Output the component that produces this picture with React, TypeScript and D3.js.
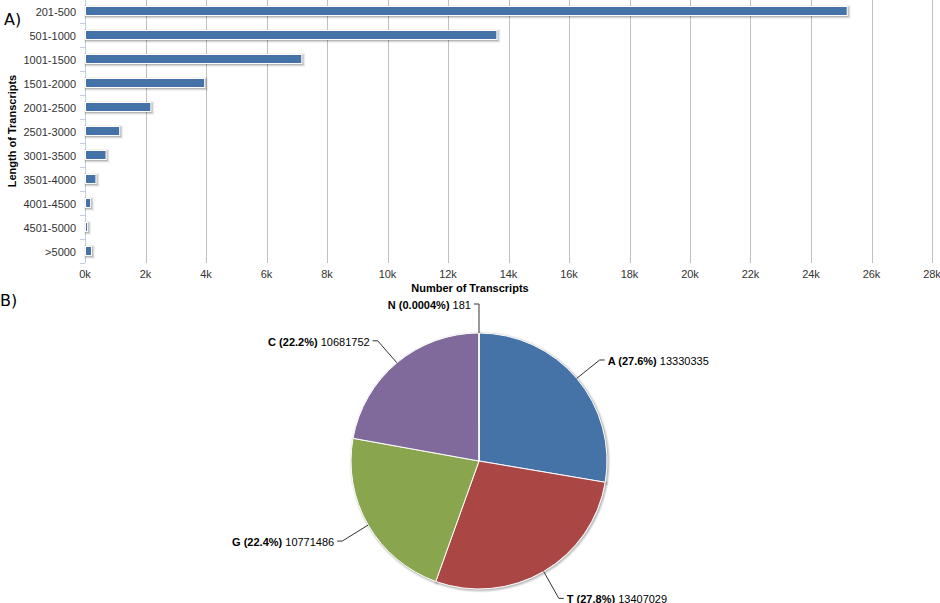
import React from 'react';
import * as d3 from 'd3';

const categories = ['201-500', '501-1000', '1001-1500', '1501-2000', '2001-2500', '2501-3000', '3001-3500', '3501-4000', '4001-4500', '4501-5000', '>5000'];
const transcriptCounts = [25180, 13600, 7150, 3940, 2160, 1130, 680, 345, 170, 70, 200];
const xTicks = [0, 2000, 4000, 6000, 8000, 10000, 12000, 14000, 16000, 18000, 20000, 22000, 24000, 26000, 28000];

const bases = ['A', 'T', 'G', 'C', 'N'];
const baseCounts = [13330335, 13407029, 10771486, 10681752, 181];
const basePercentLabels = ['27.6%', '27.8%', '22.4%', '22.2%', '0.0004%'];
const baseColors = ['#4572A7', '#AA4643', '#89A54E', '#80699B', '#3D96AE'];

const FONT = '"Liberation Sans", Arial, sans-serif';

export default function App() {
  const plotLeft = 85, plotRight = 932, plotTop = -1, plotBottom = 263;
  const x = d3.scaleLinear().domain([0, 28000]).range([plotLeft, plotRight]);
  const y = d3.scaleBand<string>().domain(categories).range([plotTop, plotBottom]);
  const barH = 9;

  const cx = 479, cy = 461, r = 128, labelR = 158;
  const pieData = d3.pie<number>().sort(null).value(d => d)(baseCounts);
  const arc = d3.arc<d3.PieArcDatum<number>>().innerRadius(0).outerRadius(r);

  const shadowLayers = [
    { w: 5, o: 0.05 },
    { w: 3, o: 0.1 },
    { w: 1, o: 0.15 },
  ];

  return (
    <svg width={940} height={603} style={{ position: 'absolute', left: 0, top: 0, background: '#fff' }} fontFamily={FONT}>
      <rect x={0} y={0} width={940} height={603} fill="#fff" />
      {/* Section labels */}
      <text x={4} y={25} fontSize={16} fontFamily='"DejaVu Sans", sans-serif' fill="#000">A)</text>
      <text x={0} y={306} fontSize={16} fontFamily='"DejaVu Sans", sans-serif' fill="#000">B)</text>

      {/* Grid lines */}
      {xTicks.map(t => (
        <line key={'g' + t} x1={Math.round(x(t)) + 0.5} x2={Math.round(x(t)) + 0.5} y1={0} y2={plotBottom} stroke="#C0C0C0" strokeWidth={1} />
      ))}
      {/* X tick labels */}
      {xTicks.map(t => (
        <text key={'t' + t} x={x(t)} y={278} fontSize={11} textAnchor="middle" fill="#333">{t / 1000 + 'k'}</text>
      ))}
      <text x={470} y={292} fontSize={11} fontWeight="bold" textAnchor="middle" fill="#000">Number of Transcripts</text>

      {/* Y axis */}
      <line x1={plotLeft + 0.5} x2={plotLeft + 0.5} y1={plotTop} y2={plotBottom} stroke="#C0D0E0" strokeWidth={1} />
      {categories.map((c, i) => (
        <line key={'yt' + i} x1={plotLeft - 5} x2={plotLeft} y1={Math.round(y(c)!) + 0.5} y2={Math.round(y(c)!) + 0.5} stroke="#C0D0E0" />
      ))}
      <line x1={plotLeft - 5} x2={plotLeft} y1={plotBottom + 0.5} y2={plotBottom + 0.5} stroke="#C0D0E0" />
      {categories.map(c => (
        <text key={'yl' + c} x={76} y={y(c)! + y.bandwidth() / 2 + 4.5} fontSize={11} textAnchor="end" fill="#333">{c}</text>
      ))}
      <text transform={`translate(16,131) rotate(-90)`} fontSize={11} fontWeight="bold" textAnchor="middle" fill="#000">Length of Transcripts</text>

      {/* Bars */}
      {categories.map((c, i) => {
        const yc = y(c)! + y.bandwidth() / 2;
        const bx = x(0) + 0.5;
        const bw = Math.max(1, x(transcriptCounts[i]) - x(0));
        const by = yc - barH / 2;
        return (
          <g key={'b' + c}>
            {shadowLayers.map((s, k) => (
              <rect key={k} x={bx + 1} y={by + 1} width={bw} height={barH} fill="none" stroke="#000" strokeOpacity={s.o} strokeWidth={s.w} />
            ))}
            <rect x={bx} y={by} width={bw} height={barH} fill="#4572A7" stroke="#fff" strokeWidth={1} />
          </g>
        );
      })}

      {/* Pie */}
      <g transform={`translate(${cx},${cy})`}>
        {pieData.map((d, i) => (
          <g key={'ps' + i} transform="translate(1,1)">
            {shadowLayers.map((s, k) => (
              <path key={k} d={arc(d) || ''} fill="none" stroke="#000" strokeOpacity={s.o} strokeWidth={s.w} strokeLinejoin="round" />
            ))}
          </g>
        ))}
        {pieData.map((d, i) => (
          <path key={'p' + i} d={arc(d) || ''} fill={baseColors[i]} stroke="#fff" strokeWidth={1} strokeLinejoin="round" />
        ))}
      </g>

      {/* Pie labels */}
      {pieData.map((d, i) => {
        const mid = (d.startAngle + d.endAngle) / 2;
        const ex = cx + r * Math.sin(mid);
        const ey = cy - r * Math.cos(mid);
        const ax = cx + labelR * Math.sin(mid);
        const ay = cy - labelR * Math.cos(mid) + 1;
        const left = mid > Math.PI;
        const sgn = left ? -1 : 1;
        const path = `M${ex},${ey}L${ax},${ay}L${ax + sgn * 5},${ay}`;
        return (
          <g key={'pl' + i}>
            <path d={path} fill="none" stroke="#333" strokeWidth={1} />
            <text x={ax + sgn * 8} y={ay + 5} fontSize={11} textAnchor={left ? 'end' : 'start'} fill="#000">
              <tspan fontWeight="bold">{`${bases[i]} (${basePercentLabels[i]})`}</tspan>
              <tspan>{' ' + baseCounts[i]}</tspan>
            </text>
          </g>
        );
      })}
    </svg>
  );
}
